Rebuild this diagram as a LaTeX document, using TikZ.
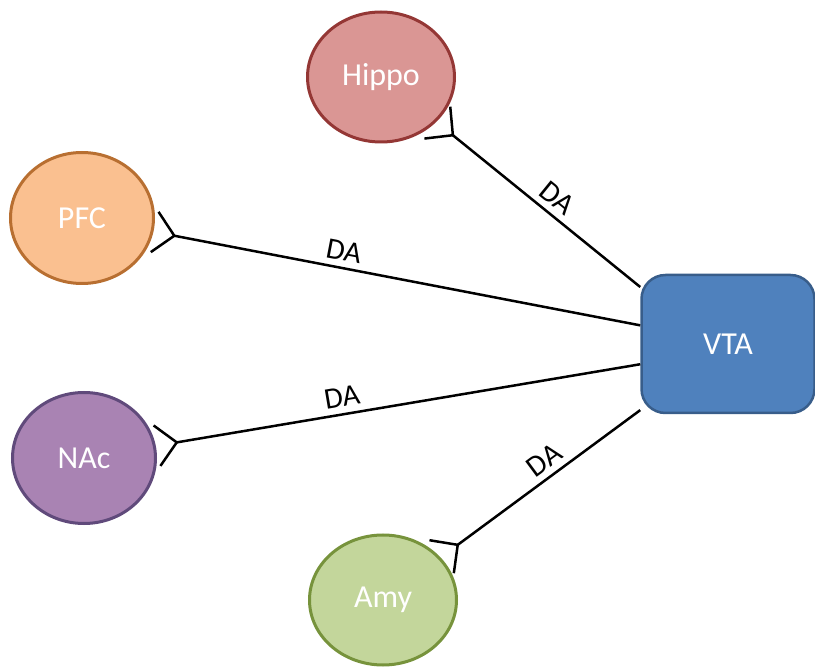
\documentclass[tikz,border=0pt]{standalone}
\usepackage{fontspec}
\setmainfont{Carlito}
\usetikzlibrary{shapes.geometric,arrows.meta}
\definecolor{hippofill}{HTML}{DA9694}
\definecolor{hippoline}{HTML}{943735}
\definecolor{pfcfill}{HTML}{FAC090}
\definecolor{pfcline}{HTML}{B86F31}
\definecolor{nacfill}{HTML}{A983B3}
\definecolor{nacline}{HTML}{604A7B}
\definecolor{amyfill}{HTML}{C3D69B}
\definecolor{amyline}{HTML}{77933C}
\definecolor{vtafill}{HTML}{4F81BD}
\definecolor{vtaline}{HTML}{385D8A}

\begin{document}
\begin{tikzpicture}[x=1pt,y=-1pt,
		region/.style={ellipse,line width=3pt,inner sep=0pt,minimum width=147pt,minimum height=130pt,text=white,font=\fontsize{32}{38}\selectfont},
		nucleus/.style={rectangle,rounded corners=24pt,line width=2.5pt,minimum width=173pt,minimum height=138pt,text=white,font=\fontsize{32}{38}\selectfont},
		projection/.style={line width=2.5pt,-{Straight Barb[reversed,sharp,length=20pt,width=41pt]}},
		transmitter/.style={sloped,above=5pt,inner sep=1pt,font=\fontsize{30}{36}\selectfont}]
		\useasboundingbox (0,0) rectangle (815,668);
		\node[region,fill=hippofill,draw=hippoline] (hippo) at (381,77) {Hippo};
		\node[region,fill=pfcfill,draw=pfcline,minimum width=143pt,minimum height=131pt] (pfc) at (82,218) {PFC};
		\node[region,fill=nacfill,draw=nacline,minimum width=143pt,minimum height=131pt] (nac) at (84,458) {NAc};
		\node[region,fill=amyfill,draw=amyline] (amy) at (383,600) {Amy};
		\node[nucleus,fill=vtafill,draw=vtaline] (vta) at (728,344) {VTA};
		\draw[projection] (vta.147) -- node[transmitter,pos=0.46] {DA} (hippo);
		\draw[projection] (vta.168) -- node[transmitter,pos=0.615] {DA} (pfc);
		\draw[projection] (vta.193) -- node[transmitter,pos=0.61] {DA} (nac);
		\draw[projection] (vta.217) -- node[transmitter,pos=0.43] {DA} (amy);
	\end{tikzpicture}
\end{document}
